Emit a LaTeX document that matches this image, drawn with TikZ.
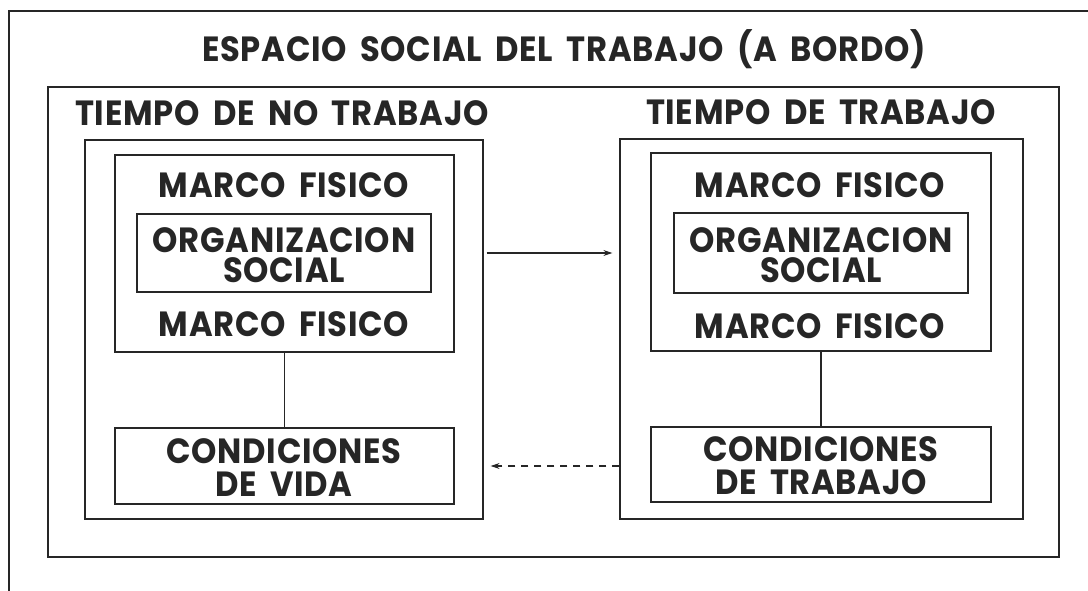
\documentclass[tikz,border=0pt]{standalone}
\usepackage{fontspec}
\newfontfamily\ff{Poppins}[LetterSpace=2.0, WordSpace=1.8, FakeStretch=0.92]
\usetikzlibrary{arrows.meta,calc}
\definecolor{ink}{HTML}{262626}
\tikzset{
  frame/.style={draw=ink, line width=1.3pt, inner sep=0pt, rectangle},
  lbl/.style={text=ink, inner sep=0pt, anchor=base, align=center, font=\ff\bfseries\fontsize{35}{30}\selectfont},
  lbltwo/.style={lbl, font=\ff\bfseries\fontsize{35}{32.5}\selectfont},
  conn/.style={draw=ink, line width=1.1pt},
  arr/.style={conn, -{Stealth[length=9pt,width=6pt]}}
}
\begin{document}
\begin{tikzpicture}[x=1pt,y=-1pt]
\useasboundingbox (0,0) rectangle (1088,591);
\fill[white] (0,0) rectangle (1088,591);
% outer frame (clipped)
\draw[ink, line width=1.3pt] (9,591) -- (9,11) -- (1088,11);
% space box
\node[frame, minimum width=1011pt, minimum height=470pt] (space) at (553.5,322) {};
\node[lbl] (title) at (564,62) {ESPACIO SOCIAL DEL TRABAJO (A BORDO)};
% left side
\node[frame, minimum width=398pt, minimum height=379pt] (ltime) at (284,329.5) {};
\node[lbl] (ltimet) at (282,126) {TIEMPO DE NO TRABAJO};
\node[frame, minimum width=339pt, minimum height=197pt] (lmarco) at (284.5,253.5) {};
\node[frame, minimum width=294pt, minimum height=78pt] (lorg) at (284,253) {};
\node[frame, minimum width=339pt, minimum height=76pt] (lcond) at (284.5,466) {};
\node[lbl] (lmf1) at (284,198) {MARCO FISICO};
\node[lbl] (lorgt) at (284,282) {ORGANIZACION\\SOCIAL};
\node[lbl] (lmf2) at (284,336) {MARCO FISICO};
\node[lbltwo] (lcondt) at (284,496) {CONDICIONES\\DE VIDA};
% right side
\node[frame, minimum width=403pt, minimum height=380pt] (rtime) at (821.5,329) {};
\node[lbl] (rtimet) at (821,125) {TIEMPO DE TRABAJO};
\node[frame, minimum width=340pt, minimum height=198pt] (rmarco) at (821,252) {};
\node[frame, minimum width=294pt, minimum height=80pt] (rorg) at (821,253) {};
\node[frame, minimum width=340pt, minimum height=75pt] (rcond) at (821,464.5) {};
\node[lbl] (rmf1) at (820,197) {MARCO FISICO};
\node[lbl] (rorgt) at (821,282) {ORGANIZACION\\SOCIAL};
\node[lbl] (rmf2) at (820,338) {MARCO FISICO};
\node[lbltwo] (rcondt) at (821,494) {CONDICIONES\\DE TRABAJO};
% connectors
\draw[conn] (lmarco.south) -- (lcond.north);
\draw[conn] (rmarco.south) -- (rcond.north);
\draw[arr] ([xshift=3pt]ltime.east |- lorg.center) -- ([xshift=-7pt]rtime.west |- lorg.center);
\draw[arr, dashed, dash pattern=on 7pt off 6pt] (rtime.west |- lcond.center) -- ([xshift=7pt]ltime.east |- lcond.center);
\end{tikzpicture}
\end{document}
